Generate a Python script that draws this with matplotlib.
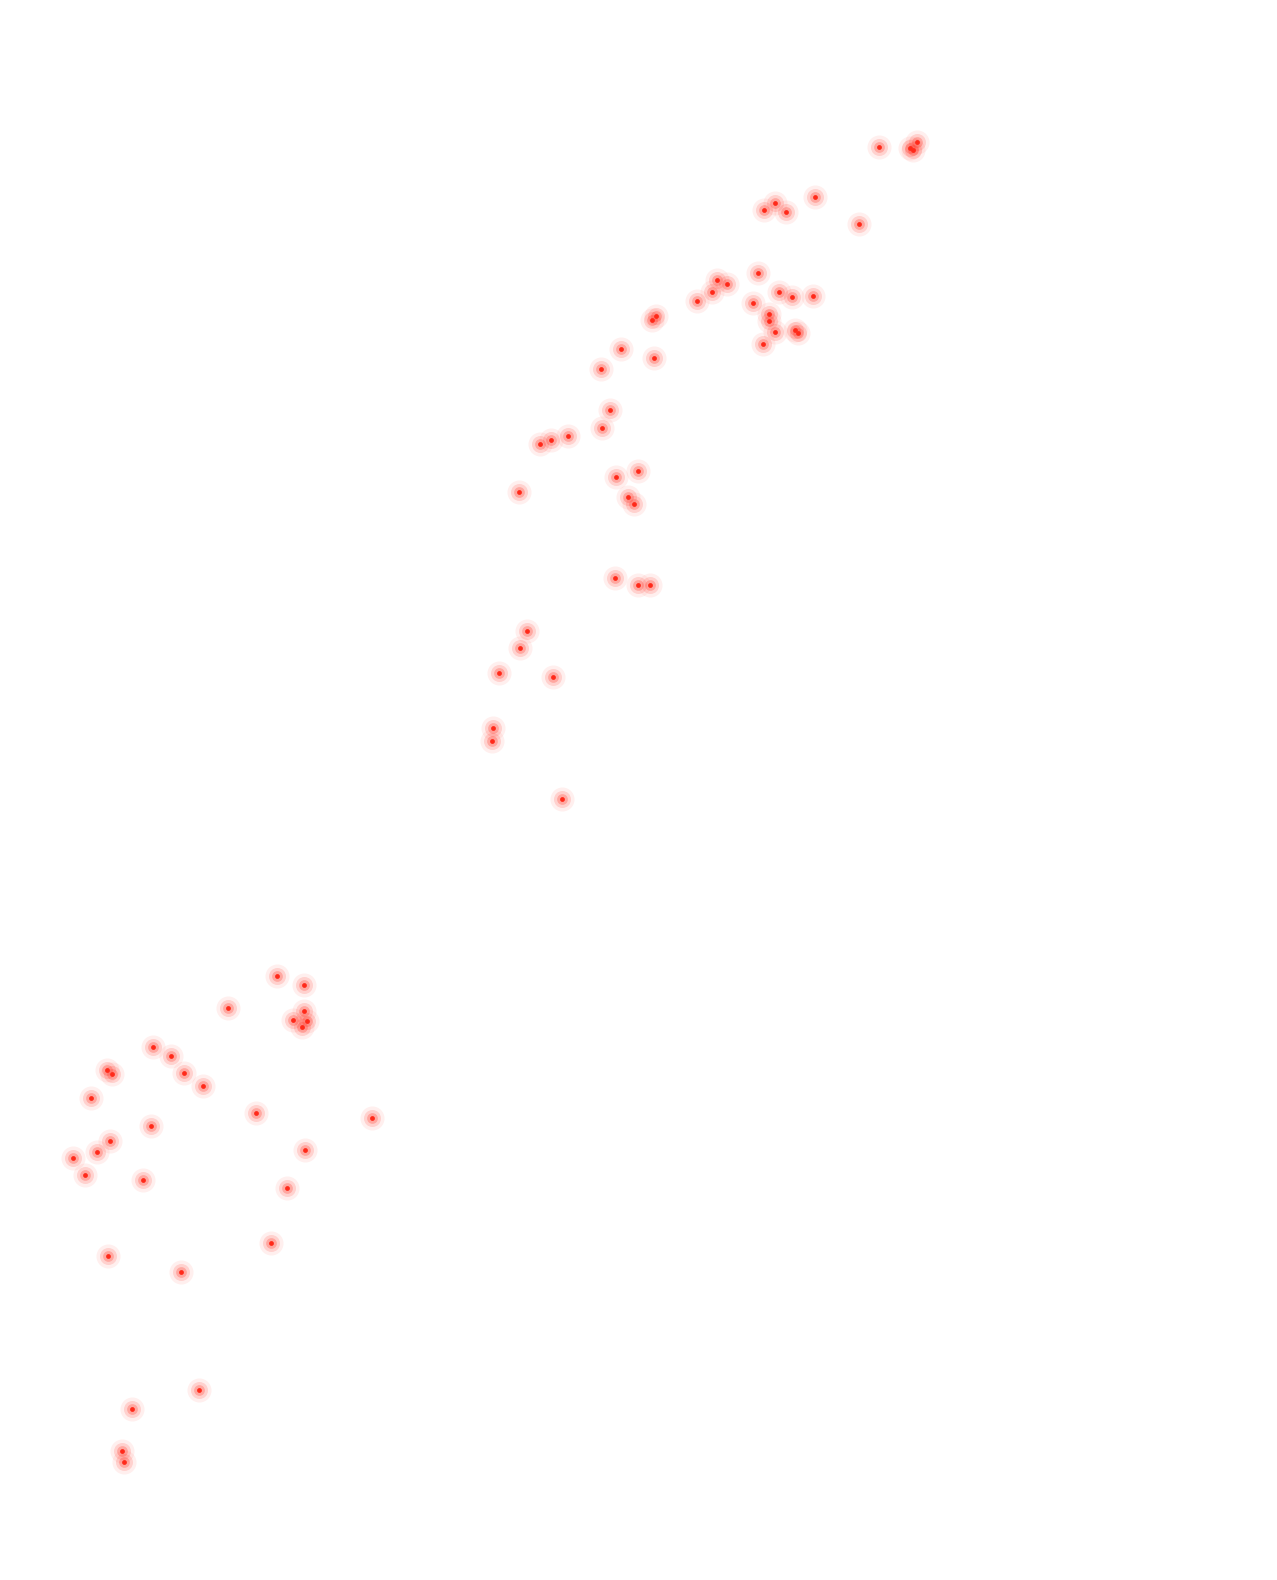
import matplotlib
matplotlib.use("Agg")
import matplotlib.pyplot as plt

# 點位座標
x = [879, 910, 917, 913, 815, 775, 764, 786, 859,
     758, 717, 727, 712, 697, 779, 792, 813, 753, 769, 769, 775, 795, 798, 763,
     656, 652, 621, 654, 601,
     610, 602, 568, 551, 540, 638, 616, 519, 628, 634,
     615, 638, 650, 527, 520, 499, 553, 493, 492, 562,
     277, 304, 228, 304, 293, 307, 302, 153, 171, 107, 112, 184, 203, 91,
     256, 372, 151, 110, 97, 73, 305, 85, 143, 287, 271, 108, 181,
     199, 132, 122, 124]
y = [147, 148, 142, 150, 197, 203, 210, 212, 224,
     273, 280, 284, 292, 301, 292, 297, 296, 303, 314, 321, 332, 330, 333, 344,
     316, 320, 349, 358, 369,
     410, 428, 436, 440, 444, 471, 477, 492, 497, 504,
     578, 585, 585, 631, 648, 673, 677, 728, 741, 799,
     976, 985, 1008, 1011, 1020, 1021, 1027, 1047, 1056, 1070, 1074, 1073, 1086, 1098,
     1113, 1118, 1126, 1141, 1152, 1158, 1150, 1175, 1180, 1188, 1243, 1256, 1272,
     1390, 1409, 1451, 1462]

fig = plt.figure(figsize=(12.77, 15.80), dpi=100)
ax = fig.add_axes([0, 0, 1, 1])
ax.set_xlim(0, 1277)
ax.set_ylim(1580, 0)
ax.axis("off")

# 光暈 + 紅色核心
ax.scatter(x, y, s=300, color="#ff2a1a", alpha=0.07, linewidths=0)
ax.scatter(x, y, s=150, color="#ff2a1a", alpha=0.15, linewidths=0)
ax.scatter(x, y, s=60, color="#ff2a1a", alpha=0.25, linewidths=0)
ax.scatter(x, y, s=12, color="#ff2a1a", alpha=1.0, linewidths=0)

fig.savefig("out.png", dpi=100, facecolor="white")
plt.close(fig)
